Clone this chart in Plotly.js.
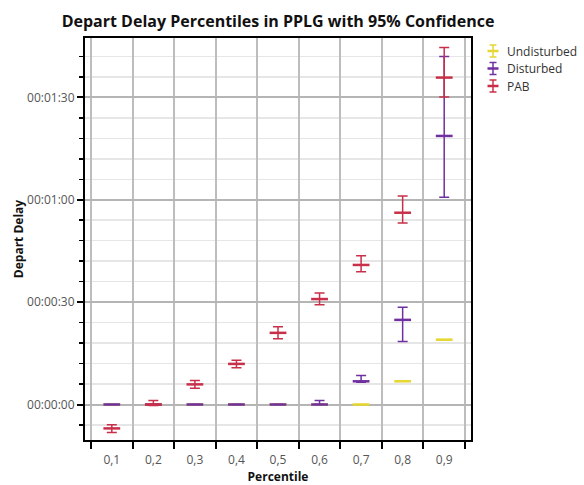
<!DOCTYPE html>
<html>
<head>
<meta charset="utf-8">
<script src="https://cdn.plot.ly/plotly-3.0.1.min.js"></script>
<style>
  html, body { margin: 0; padding: 0; background: #fff; }
  #chart { width: 584px; height: 485px; }
</style>
</head>
<body>
<div id="chart"></div>
<script>
// Percentile categories (decimal comma labels)
const percentiles = ['0,1', '0,2', '0,3', '0,4', '0,5', '0,6', '0,7', '0,8', '0,9'];

// Depart delay estimates in seconds, with 95% confidence bounds
const undisturbed   = [0, 0, 0, 0, 0, 0, 0, 6.8, 19.0];
const undisturbedLo = [0, 0, 0, 0, 0, 0, 0, 6.8, 19.0];
const undisturbedHi = [0, 0, 0, 0, 0, 0, 0, 6.8, 19.0];

const disturbed   = [0, 0, 0, 0, 0, 0, 6.8, 24.8, 78.7];
const disturbedLo = [0, 0, 0, 0, 0, 0, 6.5, 18.5, 60.7];
const disturbedHi = [0, 0, 0, 0, 0, 1.2, 8.5, 28.5, 102.0];

const pab   = [-7.0, 0.0, 5.9, 11.9, 21.0, 30.9, 40.9, 56.2, 95.8];
const pabLo = [-8.2, -0.3, 4.8, 10.8, 19.3, 29.2, 38.9, 53.2, 90.1];
const pabHi = [-5.9, 1.2, 7.0, 13.0, 22.8, 32.7, 43.6, 61.1, 104.6];

const seriesNames  = ['Undisturbed', 'Disturbed', 'PAB'];
const seriesColors = ['#e6d630', '#7030a0', '#c8304a'];

// y tick labels for the seconds axis
const yTickVals = [0, 30, 60, 90];
const yTickText = ['00:00:00', '00:00:30', '00:01:00', '00:01:30'];

const FONT = 'Open Sans, Noto Sans, sans-serif';

const W = 584, H = 485;
const M = { l: 85, r: 113, t: 38, b: 45 };
const plotW = W - M.l - M.r;
const plotH = H - M.t - M.b;

// pixel position -> paper fraction, for the hand-built legend
const px = x => (x - M.l) / plotW;
const py = y => (H - M.b - y) / plotH;

function makeTrace(name, color, y, lo, hi) {
  return {
    type: 'scatter',
    mode: 'markers',
    name: name,
    x: percentiles,
    y: y,
    marker: {
      symbol: 'line-ew',
      size: 12,
      color: color,
      line: { color: color, width: 2.5 }
    },
    error_y: {
      type: 'data',
      symmetric: false,
      array: hi.map((h, i) => h - y[i]),
      arrayminus: lo.map((l, i) => y[i] - l),
      color: color,
      thickness: 1.5,
      width: 5
    },
    showlegend: false,
    hoverinfo: 'x+y+name'
  };
}

const data = [
  makeTrace(seriesNames[0], seriesColors[0], undisturbed, undisturbedLo, undisturbedHi),
  makeTrace(seriesNames[1], seriesColors[1], disturbed, disturbedLo, disturbedHi),
  makeTrace(seriesNames[2], seriesColors[2], pab, pabLo, pabHi)
];

// Legend: error-bar glyph (caps + centre dash) with a label per series
const legendShapes = [];
const legendLabels = [];
const legendX = 493, legendTextX = 505;
const legendRows = [51, 68.5, 86];
seriesNames.forEach((name, i) => {
  const c = seriesColors[i], yc = legendRows[i];
  const line = (x0, y0, x1, y1, w) => legendShapes.push({
    type: 'line', xref: 'paper', yref: 'paper',
    x0: px(x0), y0: py(y0), x1: px(x1), y1: py(y1),
    line: { color: c, width: w }
  });
  line(legendX, yc - 6, legendX, yc + 6, 1.5);
  line(legendX - 3.5, yc - 6, legendX + 3.5, yc - 6, 1.5);
  line(legendX - 3.5, yc + 6, legendX + 3.5, yc + 6, 1.5);
  line(legendX - 5.5, yc, legendX + 5.5, yc, 2.5);
  legendLabels.push({
    xref: 'paper', yref: 'paper', x: px(legendTextX), y: py(yc),
    xanchor: 'left', yanchor: 'middle', showarrow: false,
    text: name, font: { family: FONT, size: 12, color: '#333' }
  });
});

const layout = {
  width: W,
  height: H,
  margin: M,
  paper_bgcolor: '#ffffff',
  plot_bgcolor: '#ffffff',
  font: { family: FONT, size: 12, color: '#444' },
  title: {
    text: 'Depart Delay Percentiles in PPLG with 95% Confidence',
    font: { family: FONT, size: 16, color: '#111', weight: 'bold' },
    xref: 'paper', x: 0.5, xanchor: 'center',
    yref: 'container', y: 1 - 21 / H, yanchor: 'middle'
  },
  showlegend: false,
  shapes: legendShapes,
  annotations: legendLabels,
  xaxis: {
    type: 'category',
    tickson: 'boundaries',
    ticks: 'outside', ticklen: 7, tickwidth: 2, tickcolor: '#000',
    ticklabelstandoff: 8,
    showline: true, linecolor: '#000', linewidth: 2, mirror: true,
    showgrid: true, gridcolor: '#bdbdbd', gridwidth: 2,
    tickfont: { family: FONT, size: 12, color: '#555' },
    title: { text: 'Percentile', font: { family: FONT, size: 12, color: '#111', weight: 'bold' }, standoff: 2 },
    zeroline: false,
    automargin: false,
    fixedrange: true
  },
  yaxis: {
    range: [-10.4, 107.4],
    tickmode: 'array', tickvals: yTickVals, ticktext: yTickText,
    ticks: 'outside', ticklen: 6, tickwidth: 2, tickcolor: '#000',
    showline: true, linecolor: '#000', linewidth: 2, mirror: true,
    showgrid: true, gridcolor: '#b5b5b5', gridwidth: 2,
    zeroline: false,
    tickfont: { family: FONT, size: 12, color: '#555' },
    title: { text: 'Depart Delay', font: { family: FONT, size: 12, color: '#111', weight: 'bold' }, standoff: 0 },
    minor: {
      tickmode: 'linear', tick0: 0, dtick: 6,
      ticks: 'outside', ticklen: 4, tickwidth: 1.5, tickcolor: '#000',
      showgrid: true, gridcolor: '#e6e6e6', gridwidth: 1.5
    },
    automargin: false,
    fixedrange: true
  }
};

Plotly.newPlot('chart', data, layout, { displayModeBar: false, staticPlot: true });
</script>
</body>
</html>
